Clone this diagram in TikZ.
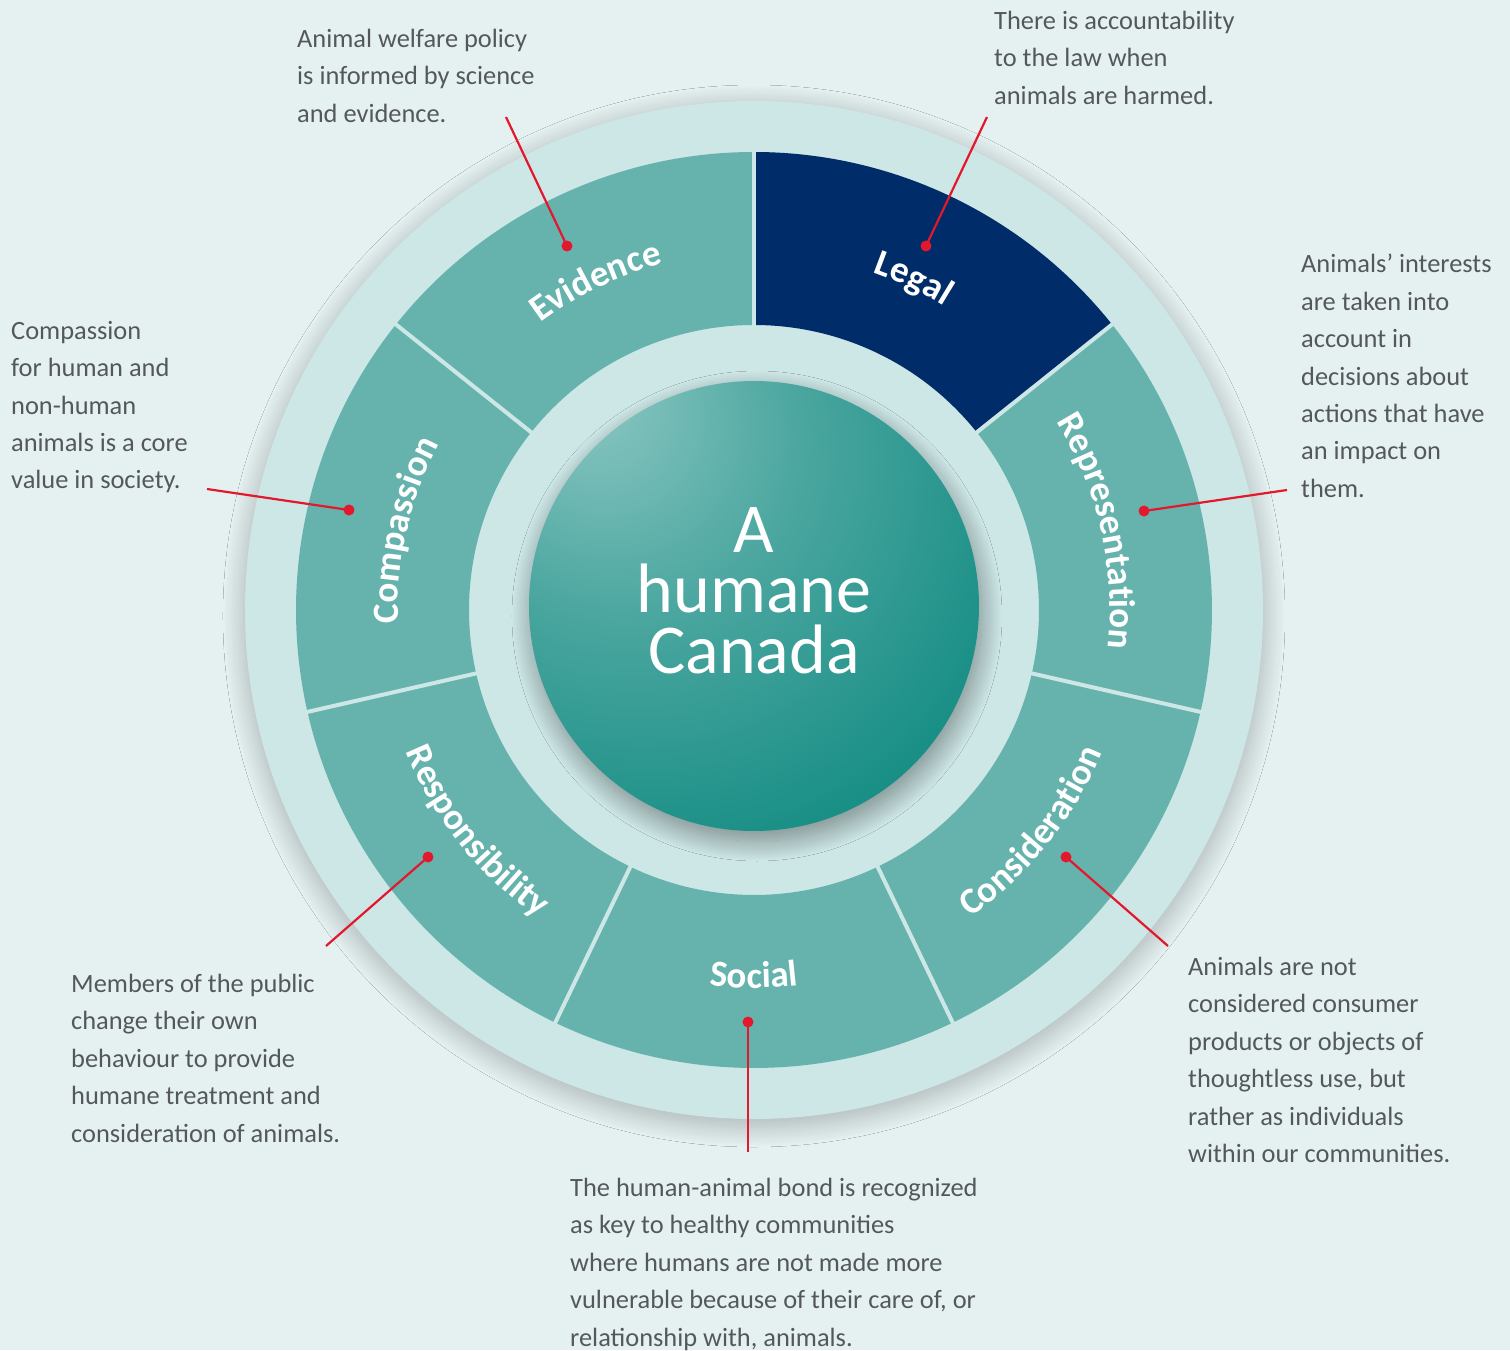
\documentclass[tikz,border=0pt]{standalone}
\usepackage{fontspec}
\setmainfont{Carlito}
\usetikzlibrary{decorations.text, shadows.blur}

\definecolor{backc}{HTML}{E5F1F1}
\definecolor{ringc}{HTML}{CDE6E6}
\definecolor{segc}{HTML}{66B3AE}
\definecolor{legalc}{HTML}{002C69}
\definecolor{pinc}{HTML}{E3182D}
\definecolor{textc}{HTML}{54585A}
\definecolor{sphlight}{HTML}{8DC7C3}
\definecolor{sphmid}{HTML}{4AA69F}
\definecolor{sphdark}{HTML}{02847A}
\pgfdeclareradialshading{spheresh}{\pgfpoint{-19bp}{24bp}}{color(0bp)=(sphlight); color(20bp)=(sphmid); color(50bp)=(sphdark); color(85bp)=(sphdark)}

\newcommand{\segfont}{\fontsize{37}{40}\selectfont\bfseries}
\newcommand{\ringpart}[3]{\fill[#3] (#1:285) arc[start angle=#1, end angle=#2, radius=285] -- (#2:458) arc[start angle=#2, end angle=#1, radius=458] -- cycle;}

\tikzset{
    gap/.style={ringc, line width=4pt},
    seglabel/.style={decorate, decoration={text along path, text align=center, text color=white, text={|\segfont|#1}}},
    dot/.style={circle, fill=pinc, inner sep=0pt, minimum size=11pt},
    pointer/.style={pinc, line width=2.2pt},
    note/.style={anchor=north west, inner sep=0pt, align=left, text=textc, font=\fontsize{26.4}{37.4}\selectfont}
}

\begin{document}
\begin{tikzpicture}[x=1pt, y=1pt]
            \path[use as bounding box, fill=backc] (-754,-740) rectangle (756,610);

            % rings
            \fill[ringc, blur shadow={shadow xshift=0pt, shadow yshift=-6pt, shadow blur radius=22pt, shadow blur steps=40, shadow opacity=28}] (0,0) circle (509);
            \ringpart{90}{38.571}{legalc}
            \ringpart{38.571}{-12.857}{segc}
            \ringpart{-12.857}{-64.286}{segc}
            \ringpart{-64.286}{-115.714}{segc}
            \ringpart{-115.714}{-167.143}{segc}
            \ringpart{-167.143}{-218.571}{segc}
            \ringpart{141.429}{90}{segc}
            \draw[gap] (90:280) -- (90:462);
            \draw[gap] (38.571:280) -- (38.571:462);
            \draw[gap] (-12.857:280) -- (-12.857:462);
            \draw[gap] (-64.286:280) -- (-64.286:462);
            \draw[gap] (-115.714:280) -- (-115.714:462);
            \draw[gap] (-167.143:280) -- (-167.143:462);
            \draw[gap] (141.429:280) -- (141.429:462);

            % centre
            \path[blur shadow={shadow xshift=3pt, shadow yshift=-10pt, shadow blur radius=20pt, shadow blur steps=40, shadow opacity=40}] (0,4) circle (225);
            \shade[shading=spheresh] (0,4) circle (225);
            \node[font=\fontsize{70}{60.5}\selectfont, text=white, align=center, inner sep=0pt] (title) at (0,19.5) {A\\humane\\Canada};

            % segment labels
            \path[seglabel={Legal}] (94.29:358) arc[start angle=94.29, end angle=34.29, radius=358];
            \path[seglabel={Representation}] (42.86:356) arc[start angle=42.86, end angle=-17.14, radius=356];
            \path[seglabel={Evidence}] (145.71:358) arc[start angle=145.71, end angle=85.71, radius=358];
            \path[seglabel={Compassion}] (197.14:356) arc[start angle=197.14, end angle=137.14, radius=356];
            \path[seglabel={Consideration}] (-68.57:376) arc[start angle=-68.57, end angle=-8.57, radius=376];
            \path[seglabel={Social}] (-120:378) arc[start angle=-120, end angle=-60, radius=378];
            \path[seglabel={Responsibility}] (-171.43:376) arc[start angle=-171.43, end angle=-111.43, radius=376];

            % pointers
            \node[dot] (evdot) at (-187,364) {};
            \node[dot] (legaldot) at (172,364) {};
            \node[dot] (repdot) at (390,99) {};
            \node[dot] (compdot) at (-405,100) {};
            \node[dot] (consdot) at (312,-247) {};
            \node[dot] (socialdot) at (-6,-412) {};
            \node[dot] (respdot) at (-326,-247) {};
            \coordinate (evend) at (-248,493);
            \coordinate (legalend) at (233,493);
            \coordinate (repend) at (533,120);
            \coordinate (compend) at (-547,121);
            \coordinate (consend) at (414,-336);
            \coordinate (socialend) at (-6,-542);
            \coordinate (respend) at (-428,-336);
            \draw[pointer] (evdot.center) -- (evend);
            \draw[pointer] (legaldot.center) -- (legalend);
            \draw[pointer] (repdot.center) -- (repend);
            \draw[pointer] (compdot.center) -- (compend);
            \draw[pointer] (consdot.center) -- (consend);
            \draw[pointer] (socialdot.center) -- (socialend);
            \draw[pointer] (respdot.center) -- (respend);

            % notes
            \node[note] (evtext) at (-457,581) {Animal welfare policy\\is informed by science\\and evidence.};
            \node[note] (legaltext) at (240,599) {There is accountability\\to the law when\\animals are harmed.};
            \node[note] (reptext) at (547,356) {Animals’ interests\\are taken into\\account in\\decisions about\\actions that have\\an impact on\\them.};
            \node[note] (comptext) at (-743,289) {Compassion\\for human and\\non-human\\animals is a core\\value in society.};
            \node[note] (constext) at (434,-347) {Animals are not\\considered consumer\\products or objects of\\thoughtless use, but\\rather as individuals\\within our communities.};
            \node[note] (socialtext) at (-184,-568) {The human-animal bond is recognized\\as key to healthy communities\\where humans are not made more\\vulnerable because of their care of, or\\relationship with, animals.};
            \node[note] (resptext) at (-683,-364) {Members of the public\\change their own\\behaviour to provide\\humane treatment and\\consideration of animals.};
        \end{tikzpicture}
\end{document}
